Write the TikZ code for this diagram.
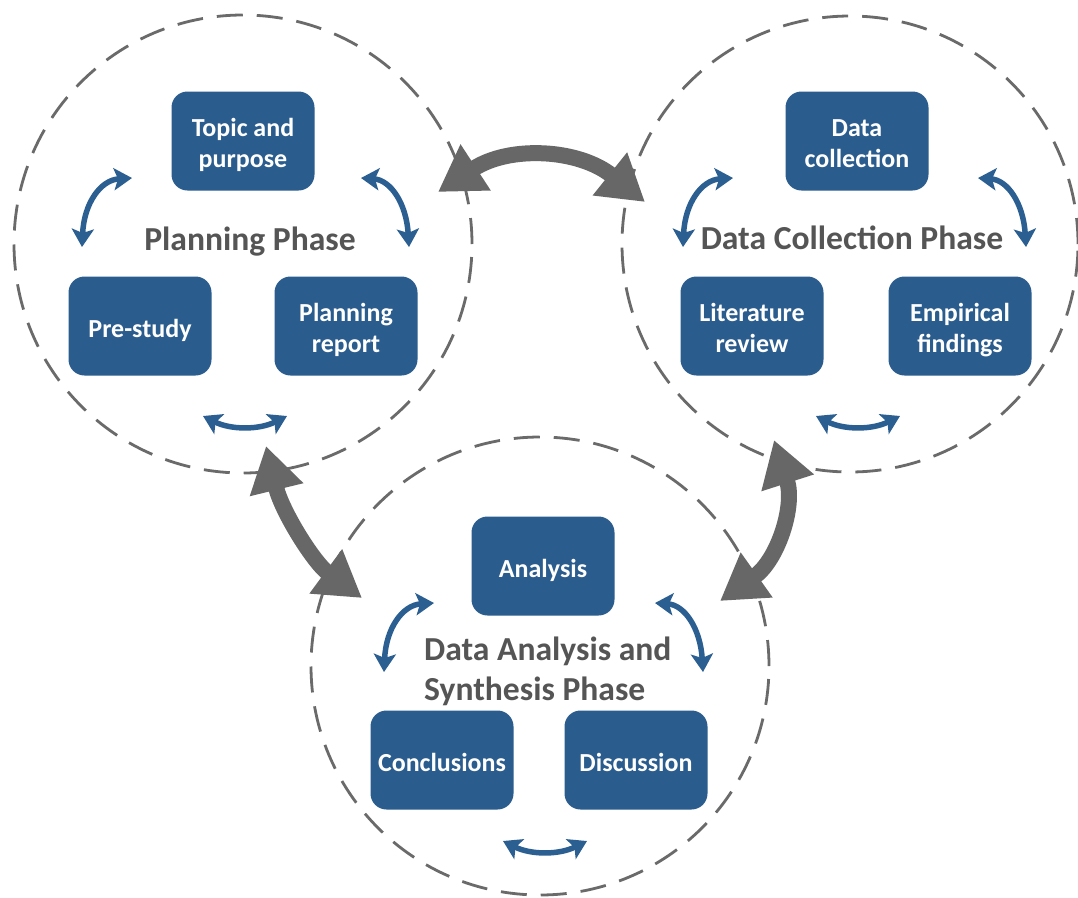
\documentclass[tikz,border=0pt]{standalone}
\usepackage{fontspec}
\setmainfont{Carlito}
\usetikzlibrary{arrows.meta,calc}
\definecolor{boxblue}{HTML}{2A5C8D}
\definecolor{arrblue}{HTML}{2C5F91}
\definecolor{titlegray}{HTML}{555555}
\definecolor{biggray}{HTML}{676767}
\definecolor{dashgray}{HTML}{6A6A6A}
\newcommand\bx[1]{\raisebox{-5pt}[\height][\depth]{\begin{tabular}{@{}c@{}}#1\end{tabular}}}
\begin{document}
\begin{tikzpicture}[x=1pt,y=-1pt,
  phase/.style={circle, draw=dashgray, line width=2.8pt, dash pattern=on 26pt off 14pt, inner sep=0pt},
  stepbox/.style={rounded corners=16pt, fill=boxblue, text=white, minimum width=143pt, minimum height=99pt, inner sep=0pt, font=\fontsize{26}{31}\selectfont\bfseries},
  ptitle/.style={text=titlegray, font=\fontsize{33.6}{40}\selectfont\bfseries, inner sep=0pt},
  cyc/.style={draw=arrblue, line width=5.5pt, arrows={Stealth[length=18pt,width=22pt,inset=4pt]-Stealth[length=18pt,width=22pt,inset=4pt]}},
  link/.style={draw=biggray, line width=16pt, arrows={Triangle[length=45pt,width=52pt]-Triangle[length=45pt,width=52pt]}}
]
\fill[white] (0,0) rectangle (1078,897);
\useasboundingbox (0,0) rectangle (1078,897);

% phase circles
\node[phase, minimum size=458pt] (c1) at (243,244) {};
\node[phase, minimum size=456pt] (c2) at (850,244) {};
\node[phase, minimum size=458pt] (c3) at (540,666) {};

% planning phase
\node[stepbox] (topic) at (243,141) {\bx{Topic and\\purpose}};
\node[stepbox] (prestudy) at (140,326) {\bx{Pre-study}};
\node[stepbox] (planrep) at (346,326) {\bx{Planning\\report}};
\node[ptitle, anchor=base] (t1) at (250,250) {Planning Phase};

% data collection phase
\node[stepbox] (datacol) at (857,141) {\bx{Data\\collection}};
\node[stepbox] (litrev) at (752,326) {\bx{Literature\\review}};
\node[stepbox] (empir) at (960,326) {\bx{Empirical\\findings}};
\node[ptitle, anchor=base] (t2) at (852,249) {Data Collection Phase};

% analysis phase
\node[stepbox] (analysis) at (543,566) {\bx{Analysis}};
\node[stepbox] (concl) at (442,760) {\bx{Conclusions}};
\node[stepbox] (discuss) at (636,760) {\bx{Discussion}};
\node[ptitle, anchor=west, align=left] (t3) at (424,671) {Data Analysis and\\Synthesis Phase};

% small cycle arrows
\foreach \n/\cx/\cy/\dl/\dr in {p/243/141/0/0, d/856/141/-12/4, a/543/566/2/-6} {
  \begin{scope}[shift={(\cx,\cy)}]
    \coordinate (\n-lt) at (-111+\dl,37);
    \coordinate (\n-lb) at (-161+\dl,106);
    \coordinate (\n-lc) at (-158+\dl,40);
    \coordinate (\n-rt) at (118+\dr,37);
    \coordinate (\n-rb) at (166+\dr,106);
    \coordinate (\n-rc) at (162+\dr,40);
    \coordinate (\n-bl) at (-40,275);
    \coordinate (\n-br) at (44,275);
    \coordinate (\n-bc) at (2,296);
  \end{scope}
  \draw[cyc] (\n-lb) .. controls ($(\n-lb)!2/3!(\n-lc)$) and ($(\n-lt)!2/3!(\n-lc)$) .. (\n-lt);
  \draw[cyc] (\n-rt) .. controls ($(\n-rt)!2/3!(\n-rc)$) and ($(\n-rb)!2/3!(\n-rc)$) .. (\n-rb);
  \draw[cyc] (\n-bl) .. controls ($(\n-bl)!2/3!(\n-bc)$) and ($(\n-br)!2/3!(\n-bc)$) .. (\n-br);
}

% big links between phases
\coordinate (g1a) at (438,192);
\coordinate (g1c) at (545,122);
\coordinate (g1b) at (645,202);
\draw[link] (g1a) .. controls ($(g1a)!2/3!(g1c)$) and ($(g1b)!2/3!(g1c)$) .. (g1b);

\coordinate (g2a) at (266,446);
\coordinate (g2c) at (290,545);
\coordinate (g2b) at (362,598);
\draw[link] (g2a) .. controls ($(g2a)!2/3!(g2c)$) and ($(g2b)!2/3!(g2c)$) .. (g2b);

\coordinate (g3a) at (720,601);
\coordinate (g3c) at (806,540);
\coordinate (g3b) at (774,440);
\draw[link] (g3a) .. controls ($(g3a)!2/3!(g3c)$) and ($(g3b)!2/3!(g3c)$) .. (g3b);
\end{tikzpicture}
\end{document}
